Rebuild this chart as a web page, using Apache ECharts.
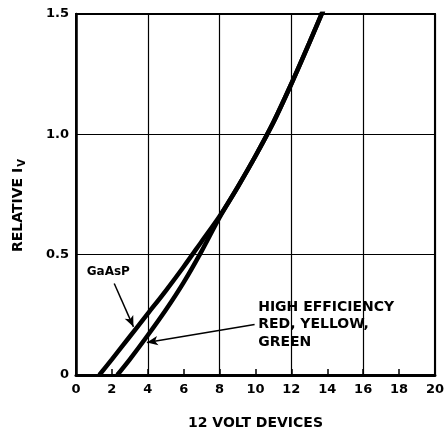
<!DOCTYPE html>
<html>
<head>
<meta charset="utf-8">
<script src="https://cdn.jsdelivr.net/npm/echarts@6/dist/echarts.min.js"></script>
<style>html,body{margin:0;padding:0;background:#fff}#c{width:447px;height:437px}</style>
</head>
<body>
<div id="c"></div>
<script>
// Data (x: volts, y: relative luminous intensity)
const gaAsP = [[1.3,0],[2,0.065],[3,0.16],[4,0.255],[5,0.35],[6,0.45],[7,0.555],[8,0.66],[9,0.78],[10,0.91],[11,1.05],[12,1.21],[13,1.38],[14,1.555]];
const highEff = [[2.3,0],[3,0.065],[4,0.165],[5,0.27],[6,0.385],[7,0.515],[8,0.655],[9,0.78],[10,0.91],[11,1.05],[12,1.21],[13,1.38],[14,1.555]];
const xTickLabels = ['0','2','4','6','8','10','12','14','16','18','20'];
const yTickLabels = ['0','0.5','1.0','1.5'];
const gaAsPLabel = 'GaAsP';
const heLabel = 'HIGH EFFICIENCY\nRED, YELLOW,\nGREEN';
const gaAsPArrow = [[2.13,0.38],[3.2,0.2]];
const heArrow = [[9.95,0.21],[3.95,0.135]];
const gaAsPLabelPos = [1.8,0.43];
const heLabelPos = [10.15,0.21];

const FONT = '"DejaVu Sans", "Liberation Sans", Arial, sans-serif';
const chart = echarts.init(document.getElementById('c'), null, {renderer:'canvas'});
const curveStyle = {color:'#000', width:4.5};
chart.setOption({
  animation:false,
  backgroundColor:'#fff',
  grid:{left:76,right:5,top:14,bottom:62,show:true,borderColor:'#000',borderWidth:2},
  xAxis:[{
    type:'value',min:0,max:20,interval:2,
    axisLine:{lineStyle:{color:'#000',width:3}},
    axisTick:{inside:true,length:6,lineStyle:{color:'#000',width:1.5}},
    axisLabel:{color:'#000',fontFamily:FONT,fontWeight:'bold',fontSize:13,margin:8,
      formatter:(v)=>xTickLabels[Math.round(v/2)]},
    splitLine:{show:false},
    name:'12 VOLT DEVICES',nameLocation:'middle',nameGap:41,
    nameTextStyle:{color:'#000',fontFamily:FONT,fontWeight:'bold',fontSize:14}
  },{
    type:'value',min:0,max:20,interval:4,position:'bottom',
    axisLine:{show:false},axisTick:{show:false},axisLabel:{show:false},
    splitLine:{show:true,lineStyle:{color:'#000',width:1.2}}
  }],
  yAxis:{
    type:'value',min:0,max:1.5,interval:0.5,
    axisLine:{show:true,lineStyle:{color:'#000',width:2.5}},
    axisTick:{show:false},
    axisLabel:{color:'#000',fontFamily:FONT,fontWeight:'bold',fontSize:13,margin:7,
      formatter:(v)=>yTickLabels[Math.round(v/0.5)]},
    splitLine:{show:true,lineStyle:{color:'#000',width:1.2}},
    name:'{a|RELATIVE I}{s|V}',nameLocation:'middle',nameGap:51,
    nameTextStyle:{color:'#000',fontFamily:FONT,fontWeight:'bold',fontSize:14,padding:[0,22,0,0],
      rich:{a:{color:'#000',fontFamily:FONT,fontWeight:'bold',fontSize:14,lineHeight:17,verticalAlign:'bottom'},
            s:{color:'#000',fontFamily:FONT,fontWeight:'bold',fontSize:10,lineHeight:13,verticalAlign:'bottom',padding:[0,0,-2,1]}}}
  },
  series:[
    {type:'line',name:'GaAsP',data:gaAsP,smooth:0.3,showSymbol:false,lineStyle:curveStyle,z:3,clip:true},
    {type:'line',name:'High efficiency',data:highEff,smooth:0.3,showSymbol:false,lineStyle:curveStyle,z:3,clip:true},
    {type:'line',name:'annotations',data:[],silent:true,
      markLine:{silent:true,animation:false,symbol:['none','arrow'],symbolSize:[7,11],
        label:{show:false},lineStyle:{color:'#000',width:1.5,type:'solid'},
        data:[
          [{coord:gaAsPArrow[0]},{coord:gaAsPArrow[1]}],
          [{coord:heArrow[0]},{coord:heArrow[1]}]
        ]},
      markPoint:{silent:true,symbol:'circle',symbolSize:0,
        data:[
          {coord:gaAsPLabelPos,label:{show:true,formatter:gaAsPLabel,position:'inside',color:'#000',fontFamily:FONT,fontWeight:'bold',fontSize:12,align:'center',verticalAlign:'middle'}},
          {coord:heLabelPos,label:{show:true,formatter:heLabel,position:'inside',color:'#000',fontFamily:FONT,fontWeight:'bold',fontSize:14,lineHeight:17.5,align:'left',verticalAlign:'middle'}}
        ]}
    }
  ]
});
</script>
</body>
</html>
